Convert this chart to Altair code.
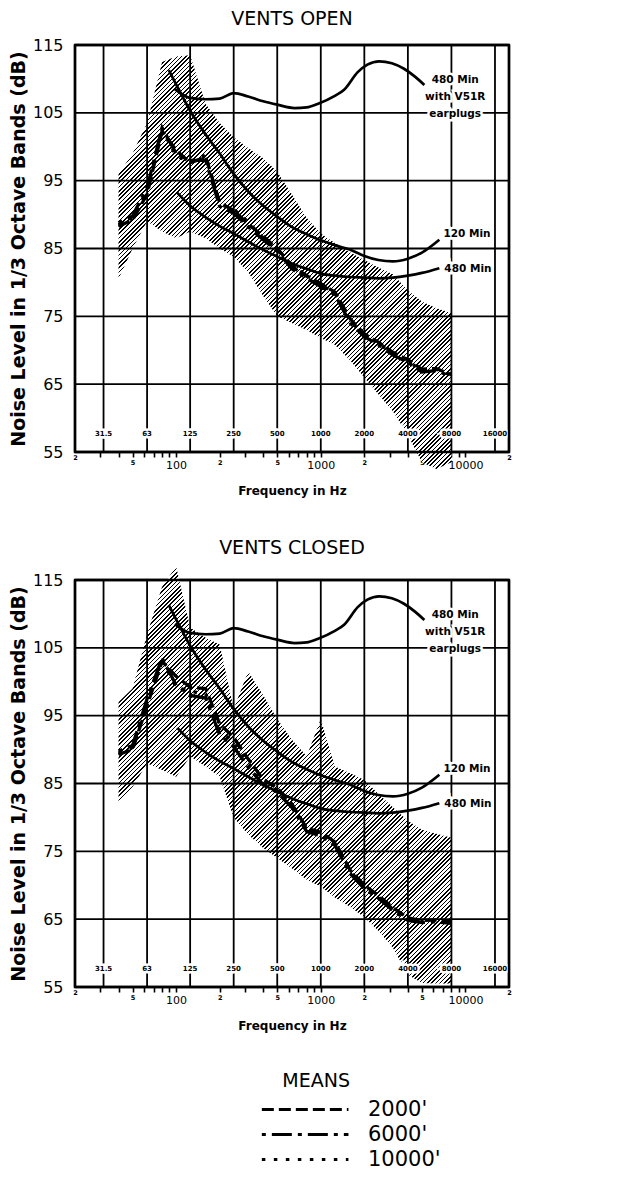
import math
import altair as alt
import pandas as pd

FONT = "DejaVu Sans"

# ---------------- data ----------------
bands = [40, 50, 63, 80, 100, 125, 160, 200, 250, 315, 400, 500, 630, 800,
         1000, 1250, 1600, 2000, 2500, 3150, 4000, 5000, 6300, 8000]

# VENTS OPEN: range envelope
open_upper = [96, 99, 103.5, 112.5, 113.3, 113.5, 106.3, 103.5, 101.4, 99.8, 98.3, 96.3,
              93, 89.5, 87.2, 85.8, 84.4, 83.3, 82.2, 81.2, 78.8, 77.2, 76.2, 75.5]
open_lower = [80.5, 85, 89, 87.5, 86.5, 87.5, 86.5, 85, 83.8, 81.5, 78, 75,
              74, 73, 71.8, 70.8, 68.5, 66, 63.5, 61, 57.5, 53.5, 52.5, 53.5]
# VENTS OPEN: means
open_2000 = [88.3, 89.2, 93.0, 102.3, 99.5, 97.6, 98.5, 91.8, 90.6, 88.6, 86.8, 85.0,
             82.5, 81.0, 79.8, 78.6, 74.6, 72.4, 71.2, 69.7, 68.6, 67.2, 67.3, 66.4]
open_6000 = [88.8, 89.8, 94.0, 102.8, 99.0, 98.0, 98.0, 91.2, 90.2, 88.2, 86.3, 84.6,
             82.0, 80.6, 79.4, 78.2, 74.0, 72.0, 70.8, 69.3, 68.2, 66.8, 67.0, 66.1]
open_10000 = [88.5, 89.5, 93.5, 102.6, 98.6, 97.8, 98.8, 91.5, 90.8, 88.9, 86.5, 84.8,
              82.3, 80.9, 79.7, 78.4, 74.3, 72.2, 71.0, 69.5, 68.4, 67.0, 67.2, 66.3]

# VENTS CLOSED: range envelope
closed_upper = [97, 99, 107, 114, 117, 108, 106.5, 105.5, 96, 101.5, 98, 94.5,
                91.5, 89, 94.5, 87.5, 86.5, 85.5, 83.5, 81.5, 79.5, 78.2, 77.6, 77]
closed_lower = [82, 84.5, 88, 87, 86, 89, 87.5, 86, 80, 77.5, 75.5, 74,
                72.5, 70.8, 69.8, 68.2, 66.8, 65.3, 63.3, 60.8, 56.8, 55.6, 55.5, 55.5]
# VENTS CLOSED: means
closed_2000 = [89.3, 90.0, 96.5, 103.0, 100.8, 99.2, 99.0, 93.8, 91.8, 88.6, 85.6, 84.3,
               82.0, 78.4, 77.8, 76.4, 72.2, 70.0, 68.5, 66.7, 65.2, 64.8, 64.9, 64.7]
closed_6000 = [89.8, 90.6, 97.5, 103.5, 99.5, 98.0, 97.6, 92.2, 90.4, 87.4, 84.8, 83.7,
               81.5, 77.9, 77.3, 75.9, 71.7, 69.5, 68.1, 66.3, 64.8, 64.5, 64.6, 64.4]
closed_10000 = [89.5, 90.3, 97.0, 103.2, 99.2, 98.6, 98.2, 93.0, 91.0, 88.0, 85.2, 84.0,
                81.8, 78.2, 77.6, 76.2, 72.0, 69.8, 68.3, 66.5, 65.0, 64.7, 64.8, 64.6]

# criteria curves
c120_f = [89, 100, 125, 160, 200, 250, 315, 400, 500, 630, 800, 1000, 1250, 1600,
          2000, 2500, 3150, 4000, 5000, 6600]
c120_db = [111.3, 109.2, 105.3, 101.8, 99, 96, 93.4, 91.3, 89.7, 88.2, 87.1, 86.2,
           85.5, 84.8, 83.9, 83.3, 83.1, 83.5, 84.4, 86.3]
c480_f = [102, 125, 160, 200, 250, 315, 400, 500, 630, 800, 1000, 1250, 1600, 2000,
          2500, 3150, 4000, 5000, 6600]
c480_db = [93.2, 91.3, 89.6, 88.3, 87.2, 86.0, 84.8, 83.8, 82.8, 82, 81.3, 81, 80.8,
           80.7, 80.6, 80.7, 81.0, 81.4, 82.1]
v51r_f = [98, 125, 160, 200, 250, 315, 400, 500, 660, 800, 950, 1250, 1450, 1800,
          2100, 2530, 3100, 3760, 4500, 5200]
v51r_db = [108.5, 107.2, 107, 107.1, 107.9, 107.4, 106.7, 106.2, 105.7, 105.8, 106.3,
           107.5, 108.4, 111, 112.1, 112.6, 112.3, 111.5, 110.3, 109.1]

# curve labels
curve_label_text = ["480 Min", "with V51R", "earplugs", "120 Min", "480 Min"]
curve_label_f = [8500, 8500, 8500, 7050, 7150]
curve_label_db = [109.8, 107.3, 104.8, 87.1, 82.0]
curve_label_align = ["center", "center", "center", "left", "left"]

# grid / axes
octave_f = [31.5, 63, 125, 250, 500, 1000, 2000, 4000, 8000, 16000]
octave_text = ["31.5", "63", "125", "250", "500", "1000", "2000", "4000", "8000", "16000"]
octave_label_db = 57.6
grid_db = [65, 75, 85, 95, 105]
frame_db = [55, 115]
frame_f = [20, 20000]
y_values = [55, 65, 75, 85, 95, 105, 115]
x_tick_values = [20, 30, 40, 50, 60, 70, 80, 90, 100, 200, 300, 400, 500, 600, 700, 800,
                 900, 1000, 2000, 3000, 4000, 5000, 6000, 7000, 8000, 9000, 10000, 20000]

series_names = ["2000'", "6000'", "10000'"]
series_dash = [[12, 5], [4, 6, 20, 6], [3.5, 8.5]]

W, H = 434, 407


def px_x(f):
    return W * (math.log10(f) - math.log10(20)) / 3


def px_y(db):
    return H * (115 - db) / 60


def hatch_fill(freqs, lower, upper, period=3.0, duty=0.38):
    wb = px_x(max(freqs)) - px_x(min(freqs))
    hb = px_y(min(lower)) - px_y(max(upper))
    s = (wb + hb) / (wb * wb + hb * hb)
    n = int(round((wb + hb) / math.sqrt(2) / period))
    stops = []
    for i in range(n):
        a, b, c = i / n, (i + duty) / n, (i + 1) / n
        stops += [{"offset": round(a, 5), "color": "#000000"},
                  {"offset": round(b, 5), "color": "#000000"},
                  {"offset": round(b, 5), "color": "#ffffff"},
                  {"offset": round(c, 5), "color": "#ffffff"}]
    return {"gradient": "linear", "x1": 0, "y1": 0,
            "x2": round(s * wb, 4), "y2": round(s * hb, 4), "stops": stops}


xscale = alt.Scale(type="log", domain=[20, 20000], nice=False)
yscale = alt.Scale(domain=[55, 115], nice=False, zero=False)

big = "datum.value == 100 || datum.value == 1000 || datum.value == 10000"
edge = "datum.value == 20 || datum.value == 20000"
xaxis = alt.Axis(
    values=x_tick_values, title="Frequency in Hz", grid=False, domain=False,
    labelExpr=("indexof([20,200,2000,20000], datum.value) >= 0 ? '2' : "
               "(indexof([50,500,5000], datum.value) >= 0 ? '5' : "
               "(indexof([100,1000,10000], datum.value) >= 0 ? format(datum.value, 'd') : ''))"),
    labelFontSize={"condition": {"test": big, "value": 11}, "value": 6.5},
    labelFontWeight={"condition": {"test": big, "value": "normal"}, "value": "bold"},
    tickSize={"condition": {"test": edge, "value": 0}, "value": 5},
    tickWidth=1.6, tickColor="black", labelColor="black", labelFont=FONT,
    labelPadding=2, labelOverlap=False, labelFlush=False,
    titleFont=FONT, titleFontSize=12, titleFontWeight="bold", titleColor="black",
    titlePadding=15,
)
yaxis = alt.Axis(
    values=y_values, title="Noise Level in 1/3 Octave Bands (dB)", grid=False,
    domain=False, ticks=False, labelFont=FONT, labelFontSize=16, labelColor="black",
    labelPadding=12, titleFont=FONT, titleFontSize=19, titleFontWeight="bold",
    titleColor="black", titlePadding=4,
)

X = alt.X("f:Q", scale=xscale, axis=xaxis)
Y = alt.Y("db:Q", scale=yscale, axis=yaxis)


def panel(title, upper, lower, m2000, m6000, m10000):
    band_df = pd.DataFrame({"f": bands, "db": lower, "db2": upper})
    band = alt.Chart(band_df).mark_area(
        fill=hatch_fill(bands, lower, upper), opacity=1, strokeWidth=0
    ).encode(x=X, y=Y, y2="db2:Q")

    vgrid = alt.Chart(pd.DataFrame({"f": octave_f})).mark_rule(
        color="black", strokeWidth=1.8).encode(x=X)
    hgrid = alt.Chart(pd.DataFrame({"db": grid_db})).mark_rule(
        color="black", strokeWidth=1.8).encode(y=Y)
    vframe = alt.Chart(pd.DataFrame({"f": frame_f})).mark_rule(
        color="black", strokeWidth=2.4).encode(x=X)
    hframe = alt.Chart(pd.DataFrame({"db": frame_db})).mark_rule(
        color="black", strokeWidth=2.4).encode(y=Y)

    def curve(fs, dbs):
        return alt.Chart(pd.DataFrame({"f": fs, "db": dbs})).mark_line(
            color="black", strokeWidth=2.7, interpolate="monotone").encode(x=X, y=Y)

    means_df = pd.concat([
        pd.DataFrame({"f": bands, "db": m2000, "series": series_names[0]}),
        pd.DataFrame({"f": bands, "db": m6000, "series": series_names[1]}),
        pd.DataFrame({"f": bands, "db": m10000, "series": series_names[2]}),
    ])
    means = alt.Chart(means_df).mark_line(color="black", strokeWidth=3.3).encode(
        x=X, y=Y,
        strokeDash=alt.StrokeDash(
            "series:N",
            scale=alt.Scale(domain=series_names, range=series_dash),
            sort=series_names,
            legend=alt.Legend(
                title="MEANS", orient="none", legendX=185, legendY=1027,
                direction="vertical", titleFont=FONT, titleFontSize=19,
                titleFontWeight="normal", titleColor="black", titleAnchor="middle",
                titleAlign="right", titlePadding=8, labelFont=FONT, labelFontSize=21,
                labelColor="black", symbolType="M-1,0L9,0", symbolSize=300,
                symbolStrokeWidth=3, symbolStrokeColor="black", labelOffset=87,
                rowPadding=3,
            ),
        ),
    )

    oct_df = pd.DataFrame({"f": octave_f, "db": octave_label_db, "t": octave_text})
    oct_halo = alt.Chart(oct_df).mark_text(
        font=FONT, fontSize=7, fontWeight="bold", color="white", stroke="white",
        strokeWidth=5).encode(x=X, y=Y, text="t:N")
    oct_text = alt.Chart(oct_df).mark_text(
        font=FONT, fontSize=7, fontWeight="bold", color="black").encode(x=X, y=Y, text="t:N")

    lab_df = pd.DataFrame({"f": curve_label_f, "db": curve_label_db,
                           "t": curve_label_text, "a": curve_label_align})
    layers_lab = []
    for al in ["center", "left"]:
        sub = lab_df[lab_df["a"] == al]
        layers_lab.append(alt.Chart(sub).mark_text(
            font=FONT, fontSize=10.5, fontWeight="bold", color="white", stroke="white",
            strokeWidth=5, align=al).encode(x=X, y=Y, text="t:N"))
        layers_lab.append(alt.Chart(sub).mark_text(
            font=FONT, fontSize=10.5, fontWeight="bold", color="black",
            align=al).encode(x=X, y=Y, text="t:N"))

    return alt.layer(
        band, vgrid, hgrid,
        curve(c120_f, c120_db), curve(c480_f, c480_db), curve(v51r_f, v51r_db),
        means, oct_halo, oct_text, *layers_lab, vframe, hframe,
    ).properties(
        width=W, height=H,
        title=alt.TitleParams(title, font=FONT, fontSize=19, fontWeight="normal",
                              color="black", anchor="middle", offset=8),
    )


top = panel("VENTS OPEN", open_upper, open_lower, open_2000, open_6000, open_10000)
bottom = panel("VENTS CLOSED", closed_upper, closed_lower, closed_2000, closed_6000,
               closed_10000)

chart = alt.vconcat(top, bottom, spacing=40).properties(
    padding={"left": 0, "top": 0, "right": 5, "bottom": 5},
    background="white",
).configure_view(stroke="black", strokeWidth=2.4)

chart.save("out.html", embed_options={"renderer": "svg", "actions": False})
